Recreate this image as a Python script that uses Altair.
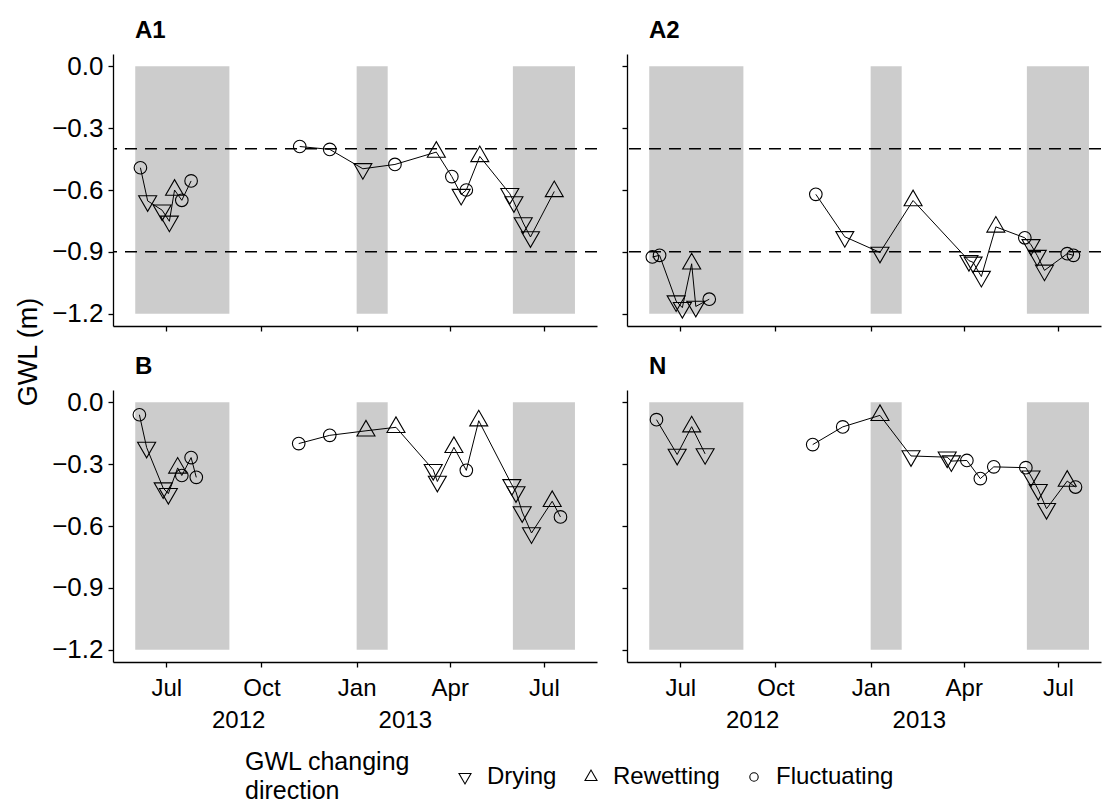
import altair as alt
import pandas as pd

FONT = "Liberation Sans"
ORIGIN = pd.Timestamp("2012-07-01")

# ---- groundwater level (m) per site; direction: D drying, R rewetting, F fluctuating
a1_dates = ["2012-06-06", "2012-06-13", "2012-06-27", "2012-07-04", "2012-07-09",
            "2012-07-16", "2012-07-25",
            "2012-11-07", "2012-12-06", "2013-01-07", "2013-02-07", "2013-03-19",
            "2013-04-03", "2013-04-12", "2013-04-17", "2013-04-30", "2013-05-29",
            "2013-06-02", "2013-06-11", "2013-06-18", "2013-07-11"]
a1_gwl = [-0.492, -0.653, -0.698, -0.752, -0.600, -0.650, -0.556,
          -0.389, -0.403, -0.497, -0.476, -0.416, -0.535, -0.622, -0.600,
          -0.437, -0.618, -0.658, -0.760, -0.828, -0.607]
a1_dir = ["F", "D", "D", "D", "R", "F", "F",
          "F", "F", "D", "F", "R", "F", "D", "F", "R", "D", "D", "D", "D", "R"]

a2_dates = ["2012-06-04", "2012-06-11", "2012-06-27", "2012-07-03", "2012-07-12",
            "2012-07-16", "2012-07-29",
            "2012-11-09", "2012-12-07", "2013-01-10", "2013-02-11", "2013-04-06",
            "2013-04-10", "2013-04-18", "2013-05-02", "2013-05-30", "2013-06-05",
            "2013-06-11", "2013-06-18", "2013-07-10", "2013-07-16"]
a2_gwl = [-0.925, -0.917, -1.139, -1.171, -0.958, -1.165, -1.130,
          -0.621, -0.827, -0.903, -0.651, -0.943, -0.951, -1.020, -0.779,
          -0.832, -0.866, -0.918, -0.990, -0.909, -0.917]
a2_dir = ["F", "F", "D", "D", "R", "D", "F",
          "F", "D", "D", "R", "D", "D", "D", "R", "F", "D", "D", "D", "F", "F"]

b_dates = ["2012-06-05", "2012-06-12", "2012-06-28", "2012-07-03", "2012-07-12",
           "2012-07-16", "2012-07-25", "2012-07-30",
           "2012-11-06", "2012-12-06", "2013-01-10", "2013-02-08", "2013-03-16",
           "2013-03-20", "2013-04-05", "2013-04-17", "2013-04-29", "2013-05-31",
           "2013-06-04", "2013-06-10", "2013-06-19", "2013-07-09", "2013-07-17"]
b_gwl = [-0.060, -0.219, -0.416, -0.443, -0.318, -0.355, -0.268, -0.364,
         -0.200, -0.160, -0.138, -0.121, -0.327, -0.384, -0.218, -0.330,
         -0.089, -0.400, -0.435, -0.532, -0.634, -0.480, -0.556]
b_dir = ["F", "D", "D", "D", "R", "F", "F", "F",
         "F", "F", "R", "R", "D", "D", "R", "F", "R", "D", "D", "D", "D", "R", "F"]

n_dates = ["2012-06-08", "2012-06-28", "2012-07-12", "2012-07-25",
           "2012-11-06", "2012-12-05", "2013-01-10", "2013-02-09", "2013-03-16",
           "2013-03-20", "2013-04-04", "2013-04-17", "2013-04-30", "2013-05-31",
           "2013-06-05", "2013-06-12", "2013-06-20", "2013-07-10", "2013-07-18"]
n_gwl = [-0.084, -0.253, -0.118, -0.250,
         -0.205, -0.119, -0.063, -0.260, -0.266, -0.285, -0.282, -0.370,
         -0.313, -0.317, -0.358, -0.424, -0.516, -0.382, -0.411]
n_dir = ["F", "D", "R", "D",
         "F", "F", "R", "D", "D", "D", "F", "F", "F", "F", "D", "D", "D", "R", "F"]

# ---- shaded periods, reference levels and axis text
shade_start = ["2012-06-01", "2013-01-01", "2013-06-01"]
shade_end = ["2012-08-31", "2013-01-31", "2013-07-31"]
shade_top, shade_bottom = 0.0, -1.2
thresholds = [-0.4, -0.9]

tick_dates = ["2012-07-01", "2012-10-01", "2013-01-01", "2013-04-01", "2013-07-01"]
tick_labels = ["Jul", "Oct", "Jan", "Apr", "Jul"]
year_dates = ["2012-09-09", "2013-02-17"]
year_labels = ["2012", "2013"]
y_ticks = [0.0, -0.3, -0.6, -0.9, -1.2]
y_domain = [-1.26, 0.06]
y_title = "GWL  (m)"
legend_title = ["GWL changing", "direction"]

direction_names = {"D": "Drying", "R": "Rewetting", "F": "Fluctuating"}
directions = ["Drying", "Rewetting", "Fluctuating"]
# hollow symbols in a [-1, 1] box: downward / upward triangles and a smaller circle
symbol_paths = ["M-1,-0.577L1,-0.577L0,1.155Z",
                "M-1,0.577L1,0.577L0,-1.155Z",
                "M0.7,0A0.7,0.7,0,1,1,-0.7,0A0.7,0.7,0,1,1,0.7,0Z"]

# ---- layout (pixels)
W_LEFT, W_RIGHT, H = 484, 474, 272
X_START = -51.5                      # days relative to 1 July 2012
PX_PER_DAY = 484 / 467.8


def to_days(dates):
    return [int((pd.Timestamp(d) - ORIGIN).days) for d in dates]


def site_frame(dates, gwl, codes):
    d = pd.DataFrame({"date": pd.to_datetime(dates), "gwl": gwl, "code": codes})
    d["day"] = (d["date"] - ORIGIN).dt.days
    d["campaign"] = (d["date"] >= pd.Timestamp("2012-10-01")).astype(int)
    d["direction"] = d["code"].map(direction_names)
    return d[["day", "gwl", "campaign", "direction"]]


tick_days = to_days(tick_dates)
label_expr = "''"
for d, lab in reversed(list(zip(tick_days, tick_labels))):
    label_expr = f"datum.value == {d} ? '{lab}' : ({label_expr})"

shade_df = pd.DataFrame({"start": to_days(shade_start), "end": to_days(shade_end),
                         "top": shade_top, "bottom": shade_bottom})
year_df = pd.DataFrame({"day": to_days(year_dates), "label": year_labels})

shape_scale = alt.Scale(domain=directions, range=symbol_paths)
shape_legend = alt.Legend(
    title=None, orient="none", direction="horizontal", legendX=340, legendY=711,
    symbolSize=144, symbolStrokeWidth=1.1, symbolStrokeColor="black",
    symbolFillColor="transparent", labelFont=FONT, labelFontSize=24,
    labelColor="black", labelOffset=10, columnPadding=22, padding=0)


def panel(site, frame, width, bottom, left, dashed):
    xs = alt.Scale(domain=[X_START, X_START + width / PX_PER_DAY], nice=False, zero=False)
    ys = alt.Scale(domain=y_domain, nice=False, zero=False)
    if bottom:
        xa = alt.Axis(values=tick_days, labelExpr=label_expr, title=None,
                      labelPadding=9, labelFlush=False, labelOverlap=False)
    else:
        xa = alt.Axis(values=tick_days, labels=False, title=None)
    if left:
        ya = alt.Axis(values=y_ticks, format=".1f", title=None, labelPadding=5,
                      labelFontSize=26)
    else:
        ya = alt.Axis(values=y_ticks, labels=False, title=None)

    def X(f):
        return alt.X(f, type="quantitative", scale=xs, axis=xa)

    def Y(f):
        return alt.Y(f, type="quantitative", scale=ys, axis=ya)

    layers = [
        alt.Chart(shade_df).mark_rect(color="#cccccc").encode(
            x=X("start"), x2="end", y=Y("top"), y2="bottom"),
    ]
    if dashed:
        layers.append(
            alt.Chart(pd.DataFrame({"level": thresholds})).mark_rule(
                color="black", strokeWidth=1.4, strokeDash=[12, 8]).encode(y=Y("level")))
    layers += [
        alt.Chart(frame).mark_line(color="black", strokeWidth=1).encode(
            x=X("day"), y=Y("gwl"), detail="campaign:N", order="day:Q"),
        alt.Chart(frame).mark_point(filled=False, color="black", strokeWidth=1.1,
                                    size=324, opacity=1).encode(
            x=X("day"), y=Y("gwl"),
            shape=alt.Shape("direction:N", scale=shape_scale, legend=shape_legend)),
        alt.Chart(pd.DataFrame({"site": [site]})).mark_text(
            align="left", baseline="alphabetic", font=FONT, fontSize=24,
            fontWeight="bold", color="black").encode(
            text="site:N", x=alt.value(22), y=alt.value(-16)),
    ]
    if bottom:
        layers.append(
            alt.Chart(year_df).mark_text(font=FONT, fontSize=24, color="black",
                                         baseline="middle").encode(
                x=X("day"), y=alt.value(H + 59), text="label:N"))
    return layers


a1 = panel("A1", site_frame(a1_dates, a1_gwl, a1_dir), W_LEFT, False, True, True)
a2 = panel("A2", site_frame(a2_dates, a2_gwl, a2_dir), W_RIGHT, False, False, True)
b = panel("B", site_frame(b_dates, b_gwl, b_dir), W_LEFT, True, True, False)
n = panel("N", site_frame(n_dates, n_gwl, n_dir), W_RIGHT, True, False, False)

# shared y-axis title and a transparent corner marker fixing the outer margin
a1.append(alt.Chart(pd.DataFrame({"t": [y_title]})).mark_text(
    font=FONT, fontSize=27, color="black", angle=270, align="center",
    baseline="middle").encode(text="t:N", x=alt.value(-84), y=alt.value(298)))
a1.append(alt.Chart(pd.DataFrame({"t": [0]})).mark_point(size=1, opacity=0).encode(
    x=alt.value(-112.2), y=alt.value(-53.5)))

# legend heading, two lines left of the symbol keys
heading = pd.DataFrame({"t": legend_title, "row": [0, 1]})
for row, ypos in zip([0, 1], [372, 401]):
    b.append(alt.Chart(heading).transform_filter(f"datum.row == {row}").mark_text(
        font=FONT, fontSize=25, color="black", align="left", baseline="middle"
    ).encode(text="t:N", x=alt.value(132), y=alt.value(ypos)))

p_a1 = alt.layer(*a1).properties(width=W_LEFT, height=H)
p_a2 = alt.layer(*a2).properties(width=W_RIGHT, height=H)
p_b = alt.layer(*b).properties(width=W_LEFT, height=H)
p_n = alt.layer(*n).properties(width=W_RIGHT, height=H)

chart = alt.concat(
    p_a1, p_a2, p_b, p_n, columns=2, spacing={"row": 64, "column": 30}, bounds="flush"
).resolve_scale(
    x="independent", y="independent", shape="shared"
).properties(
    padding=0, background="white"
).configure_view(
    strokeWidth=0
).configure_axis(
    domainColor="black", domainWidth=1.3, tickColor="black", tickWidth=1.3,
    tickSize=5, grid=False, labelFont=FONT, labelFontSize=24, labelColor="black"
)

chart.save("out.html", embed_options={"renderer": "svg", "actions": False})
